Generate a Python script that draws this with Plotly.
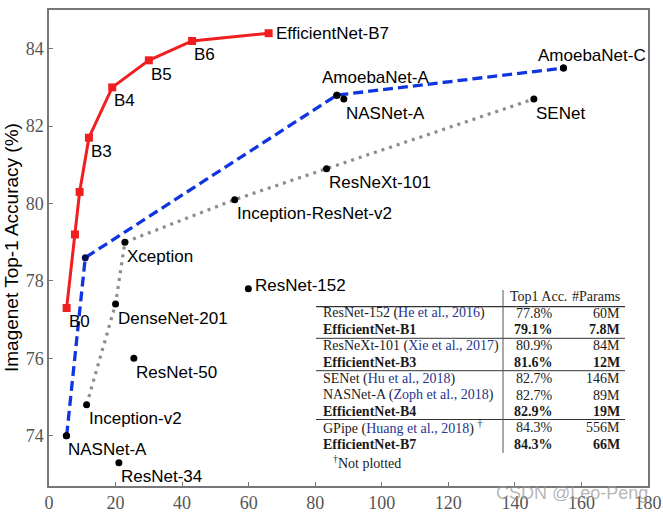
import plotly.graph_objects as go

# ---------------- data ----------------
eff_names = ["B0", "B1", "B2", "B3", "B4", "B5", "B6", "EfficientNet-B7"]
eff_params = [5.3, 7.8, 9.2, 12.0, 19.0, 30.0, 43.0, 66.0]
eff_acc = [77.3, 79.2, 80.3, 81.7, 83.0, 83.7, 84.2, 84.4]

nas_params = [5.3, 10.9, 86.5, 154.6]          # NASNet-A, ?, AmoebaNet-A, AmoebaNet-C
nas_acc = [74.0, 78.6, 82.8, 83.5]

hand_params = [11.3, 20.0, 22.8, 55.8, 83.4, 145.7]   # Inception-v2 ... SENet
hand_acc = [74.8, 77.4, 79.0, 80.1, 80.9, 82.7]

pt_names = ["NASNet-A", "Inception-v2", "DenseNet-201", "Xception", "ResNet-50",
            "ResNet-34", "ResNet-152", "Inception-ResNet-v2", "ResNeXt-101",
            "AmoebaNet-A", "NASNet-A ", "SENet", "AmoebaNet-C"]
pt_params = [5.2, 11.3, 20.0, 22.8, 25.5, 21.0, 59.9, 55.8, 83.4, 86.5, 88.6, 145.7, 154.6]
pt_acc = [74.0, 74.8, 77.4, 79.0, 76.0, 73.3, 77.8, 80.1, 80.9, 82.8, 82.7, 82.7, 83.5]

x_ticks = [0, 20, 40, 60, 80, 100, 120, 140, 160, 180]
y_ticks = [74, 76, 78, 80, 82, 84]

tbl_models = ["ResNet-152", "EfficientNet-B1", "ResNeXt-101", "EfficientNet-B3", "SENet",
              "NASNet-A", "EfficientNet-B4", "GPipe", "EfficientNet-B7"]
tbl_cites = ["He et al., 2016", "", "Xie et al., 2017", "", "Hu et al., 2018",
             "Zoph et al., 2018", "", "Huang et al., 2018", ""]
tbl_acc = ["77.8%", "79.1%", "80.9%", "81.6%", "82.7%", "82.7%", "82.9%", "84.3%", "84.3%"]
tbl_params = ["60M", "7.8M", "84M", "12M", "146M", "89M", "19M", "556M", "66M"]

# ---------------- layout helpers ----------------
W, H = 663, 513
L, R, T, B = 49, 648, 10, 486


def px(x):
    return (x - L) / (R - L)


def py(y):
    return (B - y) / (B - T)


SANS = "Liberation Sans, Arial, sans-serif"
SERIF = "Liberation Serif, Times New Roman, serif"
RED = "#f01e1e"
BLUE = "#0f35e0"

fig = go.Figure()

fig.add_trace(go.Scatter(x=hand_params, y=hand_acc, mode="lines",
                         line=dict(color="#8c8c8c", width=3.2, dash="3px,5px"),
                         hoverinfo="skip", showlegend=False))
fig.add_trace(go.Scatter(x=nas_params, y=nas_acc, mode="lines+markers",
                         line=dict(color=BLUE, width=3.3, dash="10px,5px"),
                         marker=dict(color="#0a0a50", size=7),
                         hoverinfo="skip", showlegend=False))
fig.add_trace(go.Scatter(x=pt_params, y=pt_acc, mode="markers",
                         marker=dict(color="black", size=7),
                         hoverinfo="skip", showlegend=False))
fig.add_trace(go.Scatter(x=eff_params, y=eff_acc, mode="lines+markers",
                         line=dict(color=RED, width=3),
                         marker=dict(color=RED, size=8, symbol="square"),
                         hoverinfo="skip", showlegend=False))

annotations = []
label_font = dict(family=SANS, size=17, color="black")

# EfficientNet labels (offsets in px)
eff_off = {"B0": (0, -14), "B3": (0, -14), "B4": (0, -13), "B5": (0, -14), "B6": (0, -14),
           "EfficientNet-B7": (5, 0)}
for n, x, y in zip(eff_names, eff_params, eff_acc):
    if n in eff_off:
        dx, dy = eff_off[n]
        annotations.append(dict(x=x, y=y, xref="x", yref="y", text=n, showarrow=False,
                                xanchor="left", yanchor="middle", xshift=dx, yshift=dy,
                                font=label_font))

pt_off = {"ResNet-152": (5, 3), "AmoebaNet-A": (-17, 18), "AmoebaNet-C": (-27, 13)}
for n, x, y in zip(pt_names, pt_params, pt_acc):
    dx, dy = pt_off.get(n, (0, -14))
    annotations.append(dict(x=x, y=y, xref="x", yref="y", text=n.strip(), showarrow=False,
                            xanchor="left", yanchor="middle", xshift=dx, yshift=dy,
                            font=label_font))

# y-axis title
annotations.append(dict(x=px(11), y=py(248), xref="paper", yref="paper",
                        text="Imagenet Top-1 Accuracy (%)", textangle=-90, showarrow=False,
                        xanchor="center", yanchor="middle",
                        font=dict(family=SANS, size=19, color="black")))

# ---------------- table ----------------
tfont = dict(family=SERIF, size=14, color="#1a1a1a")
CITE = "#26358f"
row_y0, pitch = 313.0, 16.4
col_name, col_acc, col_par = 321, 555, 622

annotations.append(dict(x=px(508), y=py(296), xref="paper", yref="paper", text="Top1 Acc.",
                        showarrow=False, xanchor="left", yanchor="middle", font=tfont))
annotations.append(dict(x=px(col_par), y=py(296), xref="paper", yref="paper", text="#Params",
                        showarrow=False, xanchor="right", yanchor="middle", font=tfont))

for i, (m, c, a, p) in enumerate(zip(tbl_models, tbl_cites, tbl_acc, tbl_params)):
    yc = row_y0 + i * pitch
    bold = c == ""
    if bold:
        name = f"<b>{m}</b>"
        a_t, p_t = f"<b>{a}</b>", f"<b>{p}</b>"
    else:
        name = f"{m} (<span style='color:{CITE}'>{c}</span>)"
        if m == "GPipe":
            name += " <sup>†</sup>"
        a_t, p_t = a, p
    annotations.append(dict(x=px(col_name), y=py(yc), xref="paper", yref="paper", text=name,
                            showarrow=False, xanchor="left", yanchor="middle", font=tfont))
    annotations.append(dict(x=px(col_acc), y=py(yc), xref="paper", yref="paper", text=a_t,
                            showarrow=False, xanchor="right", yanchor="middle", font=tfont))
    annotations.append(dict(x=px(col_par), y=py(yc), xref="paper", yref="paper", text=p_t,
                            showarrow=False, xanchor="right", yanchor="middle", font=tfont))

annotations.append(dict(x=px(331), y=py(462), xref="paper", yref="paper",
                        text="<sup>†</sup>Not plotted", showarrow=False,
                        xanchor="left", yanchor="middle", font=tfont))

# watermark
annotations.append(dict(x=px(650), y=py(493), xref="paper", yref="paper",
                        text="CSDN @Leo-Peng", showarrow=False, xanchor="right",
                        yanchor="middle",
                        font=dict(family=SANS, size=18, color="rgba(150,150,150,0.7)")))

shapes = []
for yl, w in [(306.7, 1.3), (338.3, 1), (370.7, 1), (419.5, 1)]:
    shapes.append(dict(type="line", xref="paper", yref="paper", x0=px(316), x1=px(625),
                       y0=py(yl), y1=py(yl), line=dict(color="#333", width=w)))
shapes.append(dict(type="line", xref="paper", yref="paper", x0=px(503), x1=px(503),
                   y0=py(290), y1=py(453), line=dict(color="#555", width=1)))

tickfont = dict(family=SERIF, size=18, color="#555")
fig.update_layout(
    width=W, height=H,
    margin=dict(l=L, r=W - R, t=T, b=H - B),
    paper_bgcolor="white", plot_bgcolor="white",
    xaxis=dict(range=[0, 180], tickvals=x_ticks, showgrid=False, zeroline=False,
               showline=True, mirror=True, linecolor="#777", linewidth=1.5,
               ticks="inside", ticklen=4, tickcolor="#777", tickfont=tickfont,
               automargin=False),
    yaxis=dict(range=[72.7, 85.0], tickvals=y_ticks, showgrid=False, zeroline=False,
               showline=True, mirror=True, linecolor="#777", linewidth=1.5,
               ticks="inside", ticklen=4, tickcolor="#777", tickfont=tickfont,
               automargin=False),
    annotations=annotations, shapes=shapes,
)

fig.write_html("out.html", config={"displayModeBar": False},
               post_script="document.body.style.margin='0';document.body.style.overflow='hidden';")
